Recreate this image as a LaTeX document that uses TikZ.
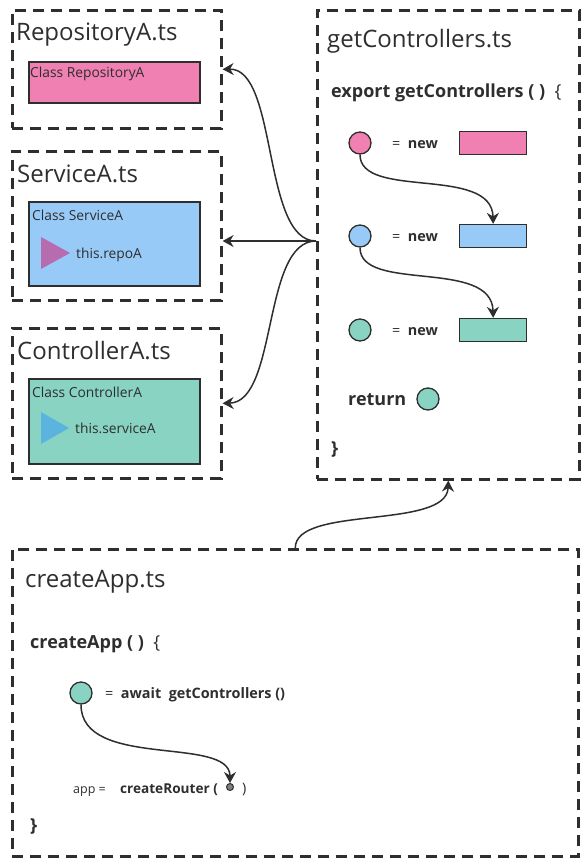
\documentclass[tikz,border=0pt]{standalone}
\usepackage{fontspec}
\setmainfont{Open Sans}
\usetikzlibrary{arrows.meta,positioning}
\definecolor{repoPink}{HTML}{EF80B1}
\definecolor{servBlue}{HTML}{98CAF7}
\definecolor{ctrlGreen}{HTML}{88D3C1}
\definecolor{triPurple}{HTML}{B86CB0}
\definecolor{triBlue}{HTML}{5AB4DD}
\definecolor{ink}{HTML}{2E2E2E}

\begin{document}
\begin{tikzpicture}[x=1pt,y=-1pt]
  \tikzset{
    filebox/.style={draw=ink,line width=2.6pt,dash pattern=on 11pt off 7pt,anchor=north west,inner sep=0pt},
    classbox/.style={draw=ink,line width=1.6pt,anchor=north west,inner sep=0pt},
    varball/.style={circle,draw=ink,line width=1.3pt,minimum size=22pt,inner sep=0pt},
    link/.style={draw=ink,line width=1.5pt,-{Stealth[length=11pt,width=12pt]}},
    title/.style={anchor=base west,inner sep=0pt,text=ink,font=\fontsize{24}{28}\selectfont},
    small/.style={anchor=base west,inner sep=0pt,text=ink,font=\fontsize{13.8}{16}\selectfont},
    code/.style={anchor=base west,inner sep=0pt,text=ink,font=\bfseries\fontsize{18}{21}\selectfont},
    kw/.style={anchor=base west,inner sep=0pt,text=ink,font=\bfseries\fontsize{14.4}{17}\selectfont}
  }
  \useasboundingbox (0,0) rectangle (587,860);
  % file boxes
  \node[filebox,minimum width=209pt,minimum height=118pt] (repo) at (11,9) {};
  \node[filebox,minimum width=209pt,minimum height=149pt] (serv) at (11,150) {};
  \node[filebox,minimum width=209pt,minimum height=150pt] (ctrl) at (11,327) {};
  \node[filebox,minimum width=262pt,minimum height=469pt] (getc) at (316,9) {};
  \node[filebox,minimum width=566pt,minimum height=307pt] (app) at (11,548) {};
  \node[title] (repoT) at (16,40) {RepositoryA.ts};
  \node[title] (servT) at (17,182) {ServiceA.ts};
  \node[title] (ctrlT) at (17,359) {ControllerA.ts};
  \node[title] (getcT) at (327,47) {getControllers.ts};
  \node[title] (appT) at (25,587) {createApp.ts};
  % classes
  \node[classbox,fill=repoPink,minimum width=171pt,minimum height=41pt] (repoC) at (28,61) {};
  \node[small] at (30,77) {Class RepositoryA};
  \node[classbox,fill=servBlue,minimum width=171pt,minimum height=84pt] (servC) at (28,201) {};
  \node[small] at (32,220) {Class ServiceA};
  \fill[triPurple] (41,237) -- (70,253) -- (41,269) -- cycle;
  \node[small] at (76,258) {this.repoA};
  \node[classbox,fill=ctrlGreen,minimum width=171pt,minimum height=85pt] (ctrlC) at (28,378) {};
  \node[small] at (32,397) {Class ControllerA};
  \fill[triBlue] (41,412) -- (69,428) -- (41,444) -- cycle;
  \node[small] at (75,433) {this.serviceA};
  % getControllers
  \node[code] at (331,97) {export getControllers ( ) \ {\mdseries\{}};
  \foreach \name/\col/\y in {r/repoPink/143,s/servBlue/236,c/ctrlGreen/330} {
    \node[kw] at (392,\y+5) {\mdseries =\ \ \bfseries new};
    \node[varball,fill=\col] (ball\name) at (360,\y) {};
    \node[classbox,fill=\col,line width=1.3pt,anchor=west,minimum width=67pt,minimum height=23pt] (new\name) at (459,\y) {};
  }
  \node[code] at (348,405) {return};
  \node[varball,fill=ctrlGreen] (ballret) at (428,399) {};
  \node[code] at (331,454) {\}};
  % createApp
  \node[code] at (30,648) {createApp ( ) \ {\mdseries\{}};
  \node[varball,fill=ctrlGreen] (ballapp) at (81,693) {};
  \node[kw] at (105,698) {\mdseries =\ \ \bfseries await\ \ getControllers ()};
  \node[small,font=\fontsize{12.5}{15}\selectfont] at (73,793) {app =};
  \node[kw,font=\bfseries\fontsize{13.6}{16}\selectfont] (router) at (120,793) {createRouter (};
  \node[circle,draw=ink,fill=gray,line width=1pt,minimum size=7pt,inner sep=0pt] (slot) at (230,787) {};
  \node[kw,font=\fontsize{14.4}{17}\selectfont] at (242,793) {)};
  \node[code] at (30,831) {\}};
  % connectors
  \coordinate (fork) at (316,241);
  \draw[link] (fork) .. controls (262,241) and (278,68) .. (repo.east);
  \draw[link] (fork) -- (serv.east|-fork);
  \draw[link] (fork) .. controls (262,241) and (278,402) .. (ctrl.east);
  \draw[link] (ballr.south) .. controls (360,200) and (492,165) .. (news.north);
  \draw[link] (balls.south) .. controls (360,293) and (492,258) .. (newc.north);
  \draw[link] (ballapp.south) .. controls (81,770) and (230,735) .. (slot.north);
  \draw[link] (app.north) .. controls (295,505) and (447,530) .. (getc.south);
\end{tikzpicture}
\end{document}
